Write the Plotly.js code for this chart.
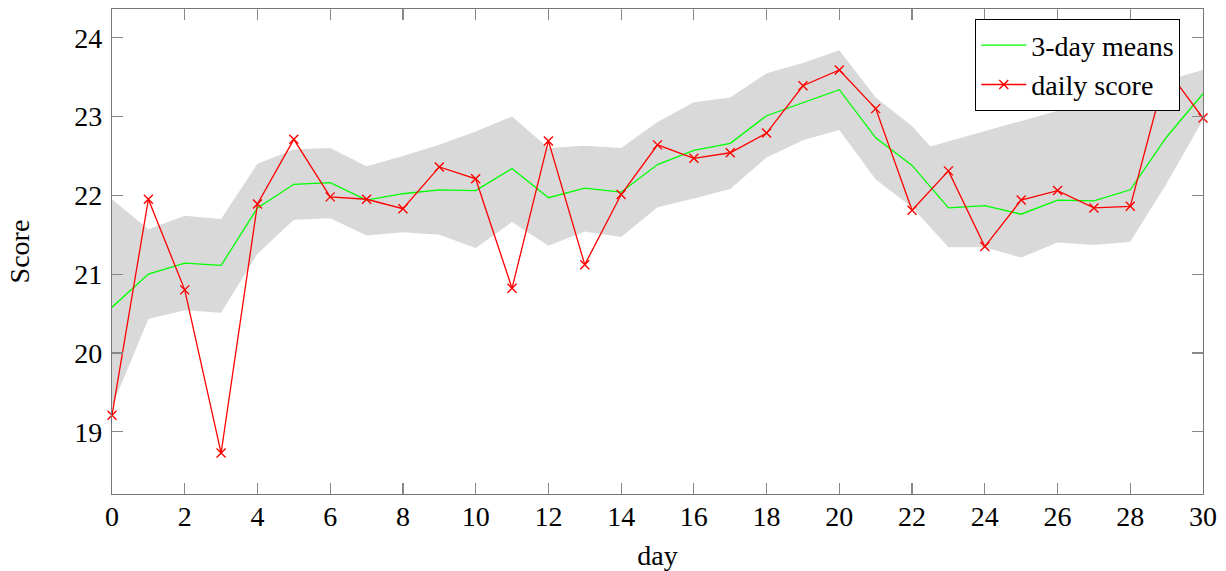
<!DOCTYPE html>
<html>
<head>
<meta charset="utf-8">
<script src="https://cdn.plot.ly/plotly-3.0.1.min.js"></script>
<style>html,body{margin:0;padding:0;background:#fff;}#chart{width:1226px;height:571px;}</style>
</head>
<body>
<div id="chart"></div>
<script>
const days = [0,1,2,3,4,5,6,7,8,9,10,11,12,13,14,15,16,17,18,19,20,21,22,23,24,25,26,27,28,29,30];
const dailyScore = [19.21,21.95,20.80,18.73,21.89,22.71,21.98,21.95,21.83,22.36,22.21,20.82,22.69,21.12,22.01,22.64,22.47,22.54,22.79,23.39,23.59,23.10,21.81,22.31,21.35,21.94,22.06,21.84,21.86,23.60,22.98];
const meanScore = [20.58,21.00,21.14,21.11,21.84,22.14,22.16,21.94,22.02,22.07,22.06,22.34,21.97,22.09,22.04,22.39,22.57,22.66,23.01,23.18,23.34,22.73,22.38,21.84,21.87,21.76,21.94,21.93,22.07,22.74,23.29];
const bandUpperX = [0,1,2,3,4,5,6,7,8,9,10,11,12,13,14,15,16,17,18,19,20,21,22,22.5,30];
const bandUpperY = [21.95,21.57,21.74,21.70,22.40,22.58,22.60,22.37,22.50,22.64,22.81,23.00,22.60,22.63,22.60,22.93,23.18,23.24,23.55,23.68,23.84,23.24,22.88,22.62,23.59];
const bandLowerX = days;
const bandLowerY = [19.32,20.43,20.54,20.51,21.26,21.69,21.71,21.49,21.53,21.50,21.33,21.66,21.36,21.54,21.47,21.85,21.96,22.08,22.48,22.70,22.83,22.20,21.85,21.34,21.34,21.21,21.40,21.37,21.41,22.15,22.96];
const xTicks = [0,2,4,6,8,10,12,14,16,18,20,22,24,26,28,30];
const yTicks = [19,20,21,22,23,24];

const font = 'Times New Roman, Times, serif';

const band = {
  x: bandUpperX.concat(bandLowerX.slice().reverse()),
  y: bandUpperY.concat(bandLowerY.slice().reverse()),
  type: 'scatter', mode: 'lines', fill: 'toself',
  fillcolor: '#d9d9d9', line: {width: 0, color: 'rgba(0,0,0,0)'},
  showlegend: false, hoverinfo: 'skip'
};
const meanTrace = {
  x: days, y: meanScore, type: 'scatter', mode: 'lines',
  name: '3-day means', line: {color: '#00ff00', width: 1.3}
};
const dailyTrace = {
  x: days, y: dailyScore, type: 'scatter', mode: 'lines+markers',
  name: 'daily score', line: {color: '#ff0000', width: 1.3},
  marker: {symbol: 'x-thin', size: 9, color: '#ff0000', line: {width: 1.4, color: '#ff0000'}},
  cliponaxis: false
};

const axisCommon = {
  showline: true, mirror: 'ticks', linecolor: '#777', linewidth: 1.2,
  ticks: 'inside', ticklen: 11, tickwidth: 1.2, tickcolor: '#888',
  showgrid: false, zeroline: false,
  tickfont: {family: font, size: 28, color: '#000'}
};

const layout = {
  width: 1226, height: 571,
  margin: {l: 112, r: 23, t: 9, b: 77},
  paper_bgcolor: '#fff', plot_bgcolor: '#fff',
  font: {family: font, size: 28, color: '#000'},
  xaxis: Object.assign({}, axisCommon, {
    range: [0, 30], tickmode: 'array', tickvals: xTicks, ticktext: xTicks.map(String),
    ticklabelstandoff: -3,
    title: {text: 'day', font: {family: font, size: 28, color: '#000'}, standoff: 14}
  }),
  yaxis: Object.assign({}, axisCommon, {
    range: [18.21, 24.364], tickmode: 'array', tickvals: yTicks, ticktext: yTicks.map(String),
    ticklabelstandoff: 3,
    title: {text: 'Score', font: {family: font, size: 28, color: '#000'}, standoff: 36}
  }),
  legend: {
    x: 0.979, y: 0.979, xanchor: 'right', yanchor: 'top',
    bgcolor: '#fff', bordercolor: '#000', borderwidth: 1.2,
    font: {family: font, size: 28, color: '#000'},
    itemwidth: 45, tracegroupgap: 0
  },
  showlegend: true
};

Plotly.newPlot('chart', [band, meanTrace, dailyTrace], layout, {staticPlot: true, displayModeBar: false});
</script>
</body>
</html>
